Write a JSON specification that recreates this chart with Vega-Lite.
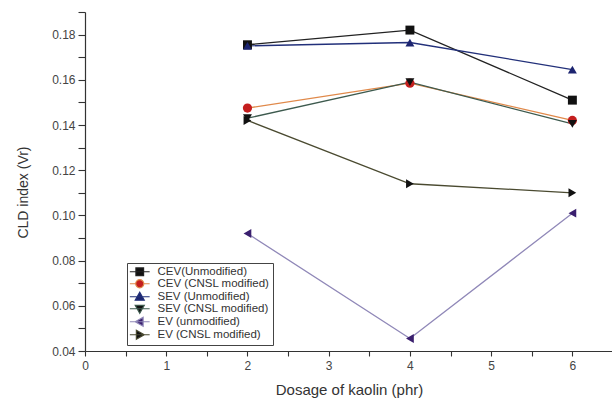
{
  "$schema": "https://vega.github.io/schema/vega-lite/v6.json",
  "autosize": {"type": "none"},
  "padding": {"left": 85, "top": 12, "right": 0, "bottom": 49},
  "width": 528,
  "height": 339,
  "background": "white",
  "config": {
    "font": "Liberation Sans",
    "view": {"stroke": null},
    "axis": {
      "grid": false,
      "domainColor": "#333",
      "domainWidth": 1.2,
      "tickColor": "#333",
      "tickWidth": 1.1,
      "labelColor": "#444",
      "labelFont": "Liberation Sans",
      "labelFontSize": 12,
      "titleFont": "Liberation Sans",
      "titleFontWeight": "normal",
      "titleColor": "#333"
    }
  },
  "data": {
    "values": [
      {"series": "CEV(Unmodified)", "dosage": 2, "cld": 0.1755},
      {"series": "CEV(Unmodified)", "dosage": 4, "cld": 0.182},
      {"series": "CEV(Unmodified)", "dosage": 6, "cld": 0.151},
      {"series": "CEV (CNSL modified)", "dosage": 2, "cld": 0.1475},
      {"series": "CEV (CNSL modified)", "dosage": 4, "cld": 0.1585},
      {"series": "CEV (CNSL modified)", "dosage": 6, "cld": 0.142},
      {"series": "SEV (Unmodified)", "dosage": 2, "cld": 0.175},
      {"series": "SEV (Unmodified)", "dosage": 4, "cld": 0.1765},
      {"series": "SEV (Unmodified)", "dosage": 6, "cld": 0.1645},
      {"series": "SEV (CNSL modified)", "dosage": 2, "cld": 0.143},
      {"series": "SEV (CNSL modified)", "dosage": 4, "cld": 0.159},
      {"series": "SEV (CNSL modified)", "dosage": 6, "cld": 0.1405},
      {"series": "EV (unmodified)", "dosage": 2, "cld": 0.092},
      {"series": "EV (unmodified)", "dosage": 4, "cld": 0.0455},
      {"series": "EV (unmodified)", "dosage": 6, "cld": 0.101},
      {"series": "EV (CNSL modified)", "dosage": 2, "cld": 0.142},
      {"series": "EV (CNSL modified)", "dosage": 4, "cld": 0.114},
      {"series": "EV (CNSL modified)", "dosage": 6, "cld": 0.110}
    ]
  },
  "encoding": {
    "x": {
      "field": "dosage", "type": "quantitative",
      "scale": {"domain": [0, 6.5], "nice": false, "zero": false},
      "axis": {
        "title": "Dosage of kaolin (phr)",
        "titleFontSize": 15,
        "titlePadding": 11,
        "values": [0, 0.5, 1, 1.5, 2, 2.5, 3, 3.5, 4, 4.5, 5, 5.5, 6, 6.5],
        "labelExpr": "datum.value % 1 === 0 ? format(datum.value, 'd') : ''",
        "tickSize": 5,
        "labelPadding": 4,
        "labelFlush": false
      }
    },
    "y": {
      "field": "cld", "type": "quantitative",
      "scale": {"domain": [0.04, 0.19], "nice": false, "zero": false},
      "axis": {
        "title": "CLD index (Vr)",
        "titleFontSize": 14,
        "titlePadding": 21,
        "titleY": 180,
        "values": [0.04, 0.05, 0.06, 0.07, 0.08, 0.09, 0.1, 0.11, 0.12, 0.13, 0.14, 0.15, 0.16, 0.17, 0.18, 0.19],
        "labelExpr": "round(datum.value * 100) % 2 === 0 ? format(datum.value, '.2f') : ''",
        "tickSize": 7,
        "labelPadding": 3,
        "labelFlush": false
      }
    }
  },
  "layer": [
    {
      "mark": {"type": "line", "strokeWidth": 1.3},
      "encoding": {
        "stroke": {
          "field": "series", "type": "nominal",
          "scale": {
            "domain": ["CEV(Unmodified)", "CEV (CNSL modified)", "SEV (Unmodified)", "SEV (CNSL modified)", "EV (unmodified)", "EV (CNSL modified)"],
            "range": ["#222222", "#e0894a", "#22307a", "#3d5a4e", "#9088b8", "#4a4a30"]
          },
          "legend": {
            "title": null,
            "orient": "none",
            "legendX": 42,
            "legendY": 251,
            "symbolSize": 81,
            "symbolOpacity": 1,
            "symbolStrokeWidth": 1.2,
            "symbolOffset": 4,
            "labelFont": "Liberation Sans",
            "labelFontSize": 11.5,
            "labelColor": "#333",
            "labelOffset": 12,
            "rowPadding": -2,
            "padding": 3,
            "strokeColor": "#444",
            "fillColor": "white",
            "encode": {
              "symbols": {
                "update": {
                  "fill": {"scale": "fill", "field": "value"},
                  "fillOpacity": {"value": 1},
                  "opacity": {"value": 1}
                }
              }
            }
          }
        },
        "order": {"field": "dosage"}
      }
    },
    {
      "transform": [{"filter": "datum.series === 'CEV(Unmodified)'"}],
      "mark": {"type": "point", "filled": true, "opacity": 1, "strokeWidth": 0, "shape": "square", "size": 80},
      "encoding": {"fill": {"field": "series", "type": "nominal"}}
    },
    {
      "transform": [{"filter": "datum.series === 'CEV (CNSL modified)'"}],
      "mark": {"type": "point", "filled": true, "opacity": 1, "strokeWidth": 0, "shape": "circle", "size": 85},
      "encoding": {"fill": {"field": "series", "type": "nominal"}}
    },
    {
      "transform": [{"filter": "datum.series === 'SEV (Unmodified)'"}],
      "mark": {"type": "point", "filled": true, "opacity": 1, "strokeWidth": 0, "shape": "triangle-up", "size": 80},
      "encoding": {"fill": {"field": "series", "type": "nominal"}}
    },
    {
      "transform": [{"filter": "datum.series === 'SEV (CNSL modified)'"}],
      "mark": {"type": "point", "filled": true, "opacity": 1, "strokeWidth": 0, "shape": "triangle-down", "size": 80},
      "encoding": {"fill": {"field": "series", "type": "nominal"}}
    },
    {
      "transform": [{"filter": "datum.series === 'EV (unmodified)'"}],
      "mark": {"type": "point", "filled": true, "opacity": 1, "strokeWidth": 0, "shape": "triangle-left", "size": 80},
      "encoding": {"fill": {"field": "series", "type": "nominal"}}
    },
    {
      "transform": [{"filter": "datum.series === 'EV (CNSL modified)'"}],
      "mark": {"type": "point", "filled": true, "opacity": 1, "strokeWidth": 0, "shape": "triangle-right", "size": 80},
      "encoding": {"fill": {"field": "series", "type": "nominal"}}
    },
    {
      "mark": {"type": "point", "filled": true, "opacity": 0, "strokeWidth": 1.2},
      "encoding": {
        "stroke": {"field": "series", "type": "nominal"},
        "fill": {
          "field": "series", "type": "nominal",
          "scale": {
            "domain": ["CEV(Unmodified)", "CEV (CNSL modified)", "SEV (Unmodified)", "SEV (CNSL modified)", "EV (unmodified)", "EV (CNSL modified)"],
            "range": ["#111111", "#c41e1e", "#1c2470", "#111111", "#3a1f6e", "#111111"]
          }
        },
        "shape": {
          "field": "series", "type": "nominal",
          "scale": {
            "domain": ["CEV(Unmodified)", "CEV (CNSL modified)", "SEV (Unmodified)", "SEV (CNSL modified)", "EV (unmodified)", "EV (CNSL modified)"],
            "range": [
              "M-2.2,0H2.2M-0.85,-0.85H0.85V0.85H-0.85Z",
              "M-2.2,0H-0.9M0.9,0H2.2M0.9,0A0.9,0.9,0,1,1,-0.9,0A0.9,0.9,0,1,1,0.9,0Z",
              "M-2.2,0H2.2M0,-1L1,0.75H-1Z",
              "M-2.2,0H2.2M0,1L1,-0.75H-1Z",
              "M-2.2,0H2.2M-1,0L0.75,-1V1Z",
              "M-2.2,0H2.2M1,0L-0.75,-1V1Z"
            ]
          }
        }
      }
    }
  ]
}
